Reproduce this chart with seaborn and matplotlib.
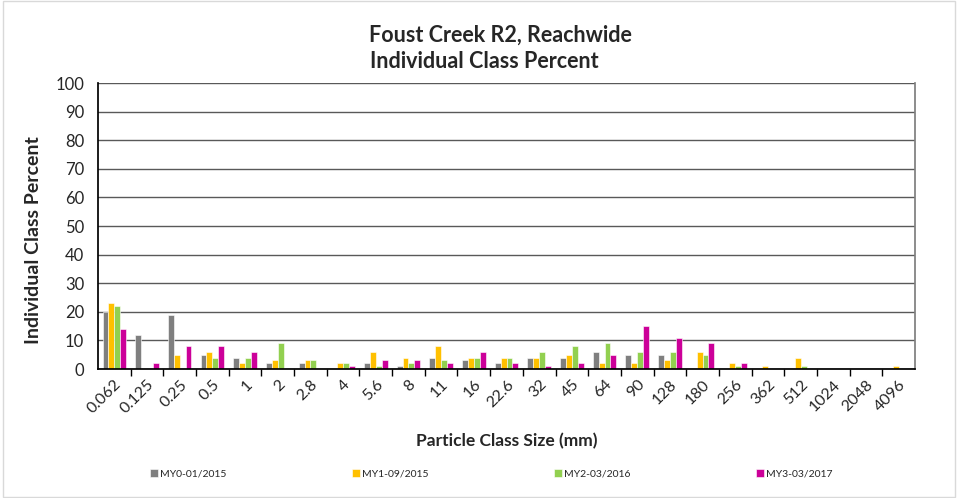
import seaborn as sns
import matplotlib.pyplot as plt
import pandas as pd
from matplotlib.patches import Rectangle

sns.set_theme(style="white")
plt.rcParams['font.family'] = ['Lato', 'DejaVu Sans']

sizes = ["0.062", "0.125", "0.25", "0.5", "1", "2", "2.8", "4", "5.6", "8", "11", "16",
         "22.6", "32", "45", "64", "90", "128", "180", "256", "362", "512", "1024", "2048", "4096"]
series = ["MY0-01/2015", "MY1-09/2015", "MY2-03/2016", "MY3-03/2017"]
my0 = [20, 12, 19, 5, 4, 2, 2, 0, 2, 1, 4, 3, 2, 4, 4, 6, 5, 5, 0, 0, 0, 0, 0, 0, 0]
my1 = [23, 0, 5, 6, 2, 3, 3, 2, 6, 4, 8, 4, 4, 4, 5, 2, 2, 3, 6, 2, 1, 4, 0, 0, 1]
my2 = [22, 0, 0, 4, 4, 9, 3, 2, 1, 2, 3, 4, 4, 6, 8, 9, 6, 6, 5, 1, 0, 1, 0, 0, 0]
my3 = [14, 2, 8, 8, 6, 0, 0, 1, 3, 3, 2, 6, 2, 1, 2, 5, 15, 11, 9, 2, 0, 0, 0, 0, 0]
colors = ["#7F7F7F", "#FFC000", "#92D050", "#CC0099"]

df = pd.DataFrame({
    "size": sizes * 4,
    "series": [s for s in series for _ in sizes],
    "pct": my0 + my1 + my2 + my3,
})

fig = plt.figure(figsize=(9.68, 4.98), dpi=100)
ax = fig.add_axes([98 / 968, 1 - 369 / 498, (915 - 98) / 968, (369 - 83) / 498])
sns.barplot(data=df, x="size", y="pct", hue="series", palette=colors, order=sizes,
            hue_order=series, width=0.72, gap=0.0, ax=ax, saturation=1,
            edgecolor="white", linewidth=0.4)

ax.set_ylim(0, 100)
ax.set_yticks(range(0, 101, 10))
ax.set_xlim(-0.5, len(sizes) - 0.5)
ax.grid(axis="y", color="#595959", linewidth=1)
ax.set_axisbelow(True)
ax.spines["top"].set_visible(False)
ax.spines["left"].set_color("black")
ax.spines["bottom"].set_color("black")
ax.spines["right"].set_color("#7F7F7F")
ax.tick_params(axis="y", labelsize=12, left=False, pad=4)
ax.tick_params(axis="x", which="major", length=0, labelsize=11.5, pad=6)
ax.set_xticks([i + 0.5 for i in range(len(sizes) - 1)], minor=True)
ax.tick_params(axis="x", which="minor", bottom=True, length=5, color="black", direction="out")
plt.setp(ax.get_xticklabels(), rotation=45, ha="right", rotation_mode="anchor")

ax.set_xlabel("Particle Class Size (mm)", fontsize=12.5, fontweight="bold", labelpad=12)
ax.set_ylabel("Individual Class Percent", fontsize=14, fontweight="bold")
ax.yaxis.set_label_coords(-0.068, 0.45)
fig.text(0.517, 0.93, "Foust Creek R2, Reachwide", ha="center", va="center",
         fontsize=15.5, fontweight="bold")
fig.text(0.5, 0.876, "Individual Class Percent", ha="center", va="center",
         fontsize=15.5, fontweight="bold")

handles, labels = ax.get_legend_handles_labels()
ax.legend_.remove()
fig.legend(handles, labels, ncol=4, loc="lower left", mode="expand",
           bbox_to_anchor=(0.145, 0.02, 0.725, 0.04), frameon=False, fontsize=7.5,
           handlelength=0.8, handleheight=0.8, handletextpad=0.2)

fig.patches.append(Rectangle((0.003, 0.003), 0.984, 0.994, transform=fig.transFigure,
                             fill=False, edgecolor="#D9D9D9", linewidth=1))

fig.savefig("out.png", dpi=100)
